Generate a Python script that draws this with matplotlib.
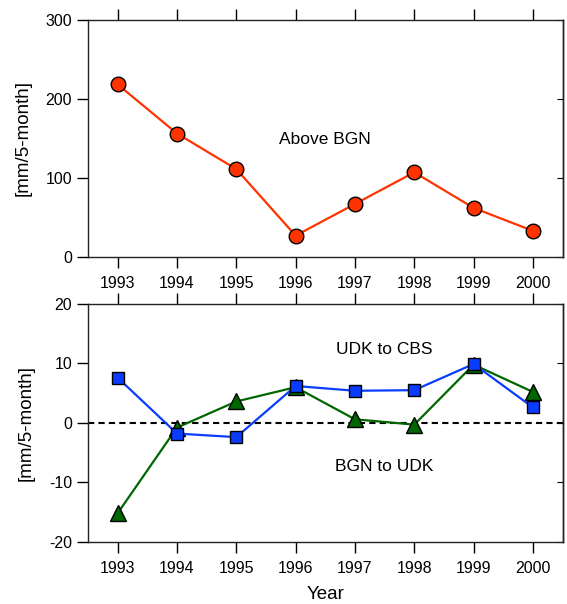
import matplotlib.pyplot as plt
import numpy as np

plt.rcParams['font.family'] = ['Liberation Sans', 'DejaVu Sans']
plt.rcParams['axes.unicode_minus'] = False

years = [1993, 1994, 1995, 1996, 1997, 1998, 1999, 2000]
above_bgn = [218, 156, 111, 27, 67, 107, 62, 33]
udk_to_cbs = [7.6, -1.8, -2.4, 6.2, 5.4, 5.5, 9.9, 2.6]
bgn_to_udk = [-15.2, -0.8, 3.6, 6.0, 0.6, -0.3, 9.8, 5.2]

fig = plt.figure(figsize=(5.67, 6.04), dpi=100)
ax1 = fig.add_axes([0.1552, 0.5745, 0.837, 0.3932])
ax2 = fig.add_axes([0.1552, 0.1031, 0.837, 0.3936])


def style(ax, yticks):
    ax.set_xlim(1992.5, 2000.5)
    ax.set_xticks(years)
    ax.set_xticklabels([str(y) for y in years])
    ax.set_yticks(yticks)
    ax.tick_params(axis='x', top=True, direction='out', length=8, width=1,
                   labelsize=11.5, pad=6)
    ax.tick_params(axis='y', direction='out', length=8, width=1,
                   labelsize=11.5, right=False)
    sec = ax.secondary_yaxis('right')
    sec.set_yticks(yticks)
    sec.tick_params(direction='in', length=4, labelright=False)
    for s in ax.spines.values():
        s.set_linewidth(1)
        s.set_color('#222222')
    sec.spines['right'].set_linewidth(1)
    ax.set_ylabel('[mm/5-month]', fontsize=13.5, labelpad=10)


ax1.plot(years, above_bgn, color='#ff3300', lw=1.6, marker='o', markersize=10.5,
         markerfacecolor='#ff3300', markeredgecolor='black', markeredgewidth=1)
ax1.set_ylim(0, 300)
style(ax1, [0, 100, 200, 300])
ax1.text(1996.5, 148, 'Above BGN', ha='center', va='center', fontsize=12.5)

ax2.axhline(0, color='black', lw=1.5, ls=(0, (3, 2)), zorder=1)
ax2.plot(years, bgn_to_udk, color='#006600', lw=1.6, marker='^', markersize=11,
         markerfacecolor='#006600', markeredgecolor='black', markeredgewidth=1, zorder=2)
ax2.plot(years, udk_to_cbs, color='#0a3cff', lw=1.6, marker='s', markersize=9,
         markerfacecolor='#0a3cff', markeredgecolor='black', markeredgewidth=1, zorder=3)
ax2.set_ylim(-20, 20)
style(ax2, [-20, -10, 0, 10, 20])
ax2.set_xlabel('Year', fontsize=13.5, labelpad=7)
ax2.text(1997.5, 12.3, 'UDK to CBS', ha='center', va='center', fontsize=12.5)
ax2.text(1997.5, -7.4, 'BGN to UDK', ha='center', va='center', fontsize=12.5)

fig.savefig('out.png', dpi=100)
